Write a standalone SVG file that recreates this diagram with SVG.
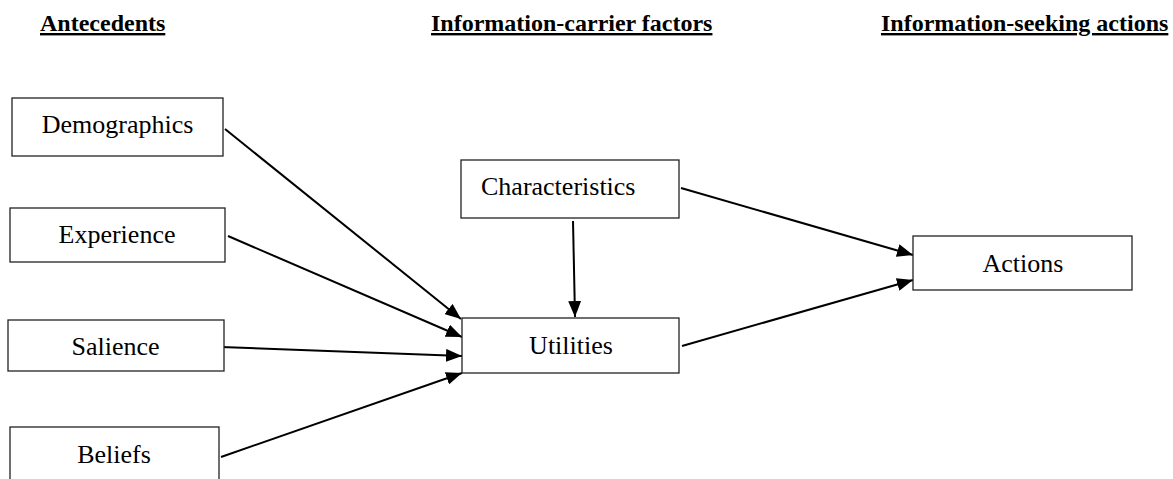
<svg xmlns="http://www.w3.org/2000/svg" width="1173" height="479" viewBox="0 0 1173 479">
<style>
.box{fill:#fff;stroke:#222;stroke-width:1.3}
.lbl{font-family:"Liberation Serif","Times New Roman",serif;font-size:26px;fill:#000}
.hdr{font-family:"Liberation Serif","Times New Roman",serif;font-size:24px;font-weight:bold;text-decoration:underline;fill:#000}
.edge{stroke:#000;stroke-width:2;fill:none;marker-end:url(#arr)}
</style>
<defs>
<marker id="arr" markerUnits="userSpaceOnUse" markerWidth="16" markerHeight="13" refX="16" refY="6.5" orient="auto">
<path d="M0,0 L16,6.5 L0,13 Z" fill="#000"/>
</marker>
</defs>
<rect width="1173" height="479" fill="#fff"/>
<g id="headers">
<text class="hdr" x="40" y="31">Antecedents</text>
<text class="hdr" x="431" y="31">Information-carrier factors</text>
<text class="hdr" x="881" y="31">Information-seeking actions</text>
</g>
<g id="connectors">
<line class="edge" x1="225" y1="129" x2="461" y2="319"/>
<line class="edge" x1="228" y1="236" x2="462" y2="337"/>
<line class="edge" x1="221" y1="347" x2="462" y2="356"/>
<line class="edge" x1="221" y1="457" x2="462" y2="373"/>
<line class="edge" x1="573" y1="221" x2="575" y2="317"/>
<line class="edge" x1="681" y1="188" x2="913" y2="255"/>
<line class="edge" x1="682" y1="346" x2="913" y2="280"/>
</g>
<g id="demographics"><rect class="box" x="12" y="98" width="211" height="58"/><text class="lbl" x="117.5" y="133" text-anchor="middle">Demographics</text></g>
<g id="experience"><rect class="box" x="10" y="208" width="215" height="54"/><text class="lbl" x="117" y="243" text-anchor="middle">Experience</text></g>
<g id="salience"><rect class="box" x="8" y="320" width="216" height="51"/><text class="lbl" x="115.5" y="355" text-anchor="middle">Salience</text></g>
<g id="beliefs"><rect class="box" x="10" y="427" width="209" height="60"/><text class="lbl" x="114" y="463" text-anchor="middle">Beliefs</text></g>
<g id="characteristics"><rect class="box" x="461" y="160" width="218" height="58"/><text class="lbl" x="481" y="195">Characteristics</text></g>
<g id="utilities"><rect class="box" x="462" y="318" width="217" height="55"/><text class="lbl" x="571" y="354" text-anchor="middle">Utilities</text></g>
<g id="actions"><rect class="box" x="913" y="236" width="219" height="54"/><text class="lbl" x="1023" y="272" text-anchor="middle">Actions</text></g>
</svg>
